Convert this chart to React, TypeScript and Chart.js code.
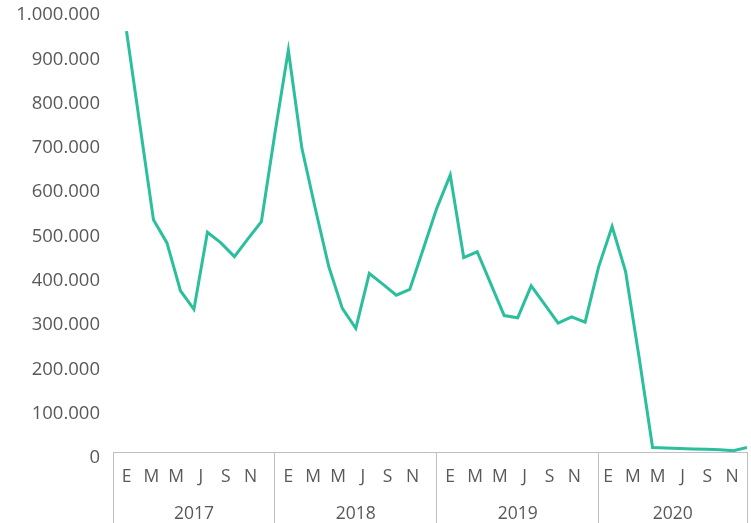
import React, { useEffect, useRef } from "react";
import { Chart, registerables } from "chart.js";

Chart.register(...registerables);

const YEARS = ["2017", "2018", "2019", "2020"];
const MONTH_TICK_LABELS = ["E", "M", "M", "J", "S", "N"];

const VALUES_2017 = [950000, 737000, 524000, 472000, 364000, 322000, 496000, 472000, 441000, 481000, 520000, 719000];
const VALUES_2018 = [907000, 686000, 549000, 418000, 324000, 279000, 403000, 379000, 354000, 367000, 458000, 550000];
const VALUES_2019 = [625000, 439000, 452000, 380000, 308000, 303000, 375000, 333000, 291000, 305000, 293000, 418000];
const VALUES_2020 = [509000, 407000, 214000, 10000, 9000, 8000, 7000, 6000, 5000, 3000, 10000];

const SERIES_BY_YEAR = [VALUES_2017, VALUES_2018, VALUES_2019, VALUES_2020];

const Y_MAX = 1000000;
const Y_STEP = 100000;

const LINE_COLOR = "#2BBF9D";
const TEXT_COLOR = "#595959";
const AXIS_COLOR = "#BFBFBF";
const FONT = "'Open Sans', 'Noto Sans', sans-serif";

// layout of the two-level category labels (in month units)
const LABEL_FIRST = 1.0;
const LABEL_STEP = 1.84;

function fmt(v: number): string {
  return String(Math.round(v)).replace(/\B(?=(\d{3})+(?!\d))/g, ".");
}

const ALL_VALUES: number[] = SERIES_BY_YEAR.flat();
const POINTS = ALL_VALUES.map((v, i) => ({ x: i, y: v }));

type XT = { value: number; label: string[]; boundary: boolean };
const X_TICKS: XT[] = (() => {
  const out: XT[] = [];
  let start = -1;
  out.push({ value: start, label: [""], boundary: true });
  SERIES_BY_YEAR.forEach((vals, yi) => {
    const end = start + vals.length;
    const first = vals.length < 12 ? LABEL_FIRST - 0.3 : LABEL_FIRST;
    MONTH_TICK_LABELS.forEach((m, k) => {
      out.push({ value: start + first + k * LABEL_STEP, label: [m, ""], boundary: false });
    });
    out.push({ value: (start + end) / 2, label: ["", YEARS[yi]], boundary: false });
    out.push({ value: end, label: [""], boundary: true });
    start = end;
  });
  out.sort((a, b) => a.value - b.value);
  return out;
})();
const X_MIN = -1;
const X_MAX = ALL_VALUES.length - 1;

export default function App() {
  const ref = useRef<HTMLCanvasElement | null>(null);
  useEffect(() => {
    if (!ref.current) return;
    const chart = new Chart(ref.current, {
      type: "line",
      data: {
        datasets: [
          {
            data: POINTS,
            borderColor: LINE_COLOR,
            backgroundColor: LINE_COLOR,
            borderWidth: 3,
            pointRadius: 0,
            tension: 0,
            fill: false,
          },
        ],
      },
      options: {
        animation: false,
        responsive: true,
        maintainAspectRatio: false,
        layout: { padding: { left: 0, right: 4, top: 0, bottom: 0 } },
        plugins: { legend: { display: false }, tooltip: { enabled: false } },
        scales: {
          x: {
            type: "linear",
            min: X_MIN,
            max: X_MAX,
            afterBuildTicks: (scale: any) => {
              scale.ticks = X_TICKS.map((t) => ({ value: t.value }));
            },
            afterFit: (scale: any) => {
              scale.height = 71;
            },
            ticks: {
              autoSkip: false,
              maxRotation: 0,
              minRotation: 0,
              padding: -64.5,
              color: TEXT_COLOR,
              font: { family: FONT, size: 17.5, lineHeight: 37 / 17.5 },
              callback: (_v: any, i: number) => X_TICKS[i].label,
            },
            grid: {
              drawOnChartArea: false,
              drawTicks: true,
              tickLength: 71,
              lineWidth: 1,
              color: (ctx: any) =>
                ctx.tick && X_TICKS.some((t) => t.boundary && t.value === ctx.tick.value)
                  ? AXIS_COLOR
                  : "rgba(0,0,0,0)",
            },
            border: { display: true, color: AXIS_COLOR, width: 1 },
          },
          y: {
            type: "linear",
            min: 0,
            max: Y_MAX,
            afterFit: (scale: any) => {
              scale.width = 113;
            },
            ticks: {
              stepSize: Y_STEP,
              padding: 0,
              labelOffset: 6,
              color: TEXT_COLOR,
              font: { family: FONT, size: 18.5, lineHeight: 0.97 },
              callback: (v: any) => fmt(Number(v)),
            },
            grid: {
              display: true,
              drawOnChartArea: false,
              drawTicks: true,
              tickLength: 13,
              color: "rgba(0,0,0,0)",
            },
            border: { display: false },
          },
        },
      },
    });
    return () => chart.destroy();
  }, []);
  return (
    <div style={{ position: "absolute", left: 0, top: 0, width: 751, height: 523, background: "#fff" }}>
      <canvas ref={ref} />
    </div>
  );
}
